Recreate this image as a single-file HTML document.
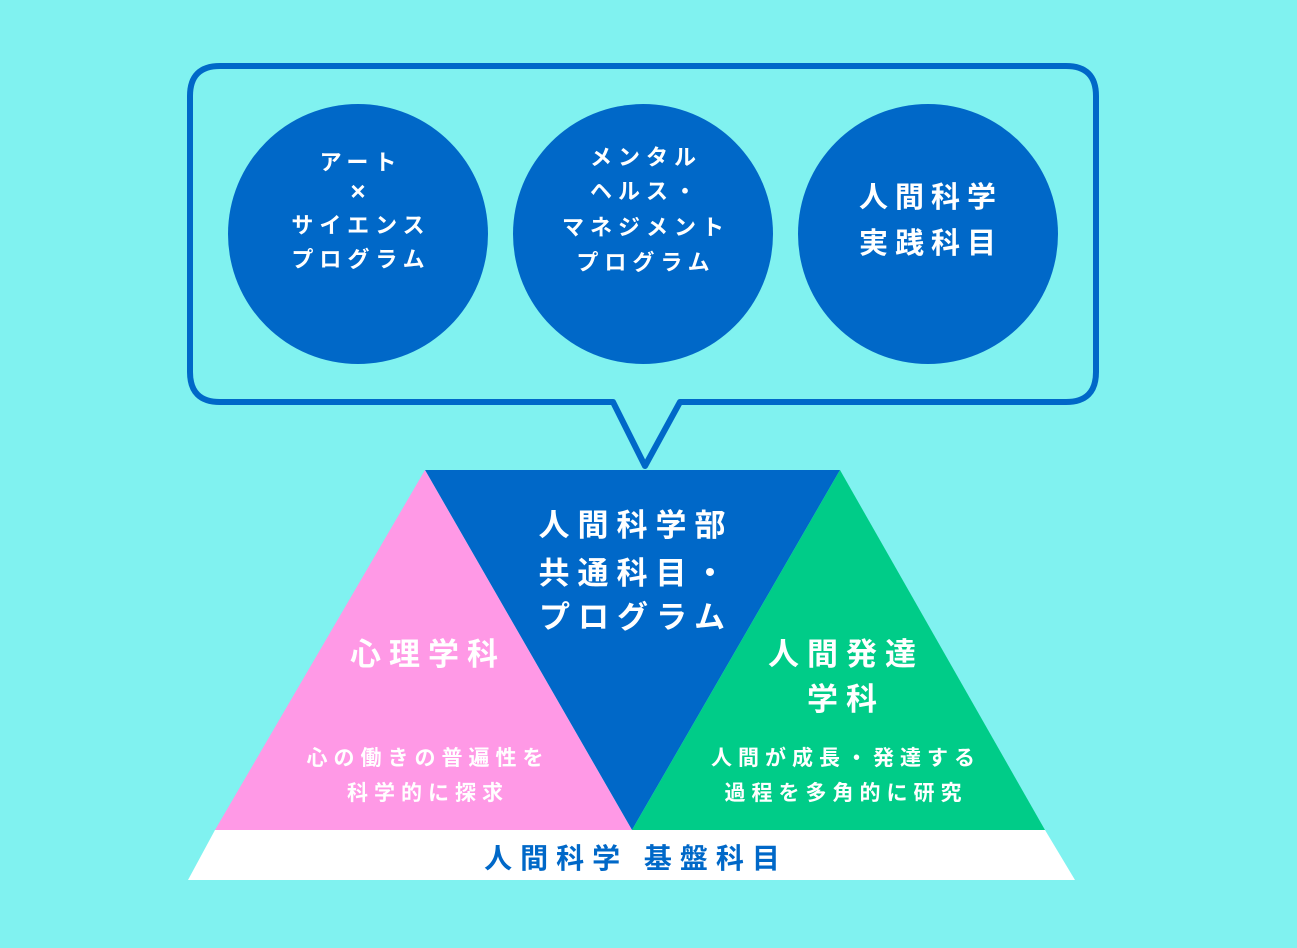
<!DOCTYPE html>
<html><head><meta charset="utf-8"><style>
body{margin:0;background:#80F2F0;}
svg{display:block}
text{font-family:"Liberation Sans","Noto Sans CJK JP",sans-serif;font-weight:bold;fill:#fff;text-anchor:middle}
</style></head><body>
<svg width="1297" height="948" viewBox="0 0 1297 948">
<rect width="1297" height="948" fill="#80F2F0"/>
<path d="M220,66 H1066 Q1096,66 1096,96 V372 Q1096,402 1066,402 H680 L645,466 L613,402 H220 Q190,402 190,372 V96 Q190,66 220,66 Z" fill="none" stroke="#0068C8" stroke-width="6" stroke-linejoin="round"/>
<circle cx="358" cy="234" r="130" fill="#0068C8"/>
<circle cx="643" cy="234" r="130" fill="#0068C8"/>
<circle cx="928" cy="234" r="130" fill="#0068C8"/>
<g font-size="22" letter-spacing="6">
<text x="361" y="170">アート</text>
<text x="361" y="200" font-size="26">×</text>
<text x="361" y="233">サイエンス</text>
<text x="361" y="267">プログラム</text>
<text x="646" y="165">メンタル</text>
<text x="646" y="199">ヘルス・</text>
<text x="646" y="235">マネジメント</text>
<text x="646" y="270">プログラム</text>
</g>
<g font-size="29" letter-spacing="7">
<text x="931" y="207">人間科学</text>
<text x="931" y="253">実践科目</text>
</g>
<polygon points="425,470 840,470 632,830" fill="#0068C8"/>
<polygon points="425,470 632,830 215,830" fill="#FF99E6"/>
<polygon points="840,470 1045,830 632,830" fill="#00CC88"/>
<polygon points="215,830 1045,830 1075,880 188,880" fill="#fff"/>
<g font-size="31" letter-spacing="8">
<text x="636" y="536">人間科学部</text>
<text x="636" y="584">共通科目・</text>
<text x="636" y="628">プログラム</text>
<text x="428" y="665">心理学科</text>
<text x="846" y="665">人間発達</text>
<text x="846" y="710">学科</text>
</g>
<g font-size="21" letter-spacing="6">
<text x="428" y="765">心の働きの普遍性を</text>
<text x="428" y="800">科学的に探求</text>
<text x="846" y="765">人間が成長・発達する</text>
<text x="846" y="800">過程を多角的に研究</text>
</g>
<text x="636" y="868" font-size="28" letter-spacing="8" style="fill:#0068C8">人間科学 基盤科目</text>
</svg>
</body></html>
